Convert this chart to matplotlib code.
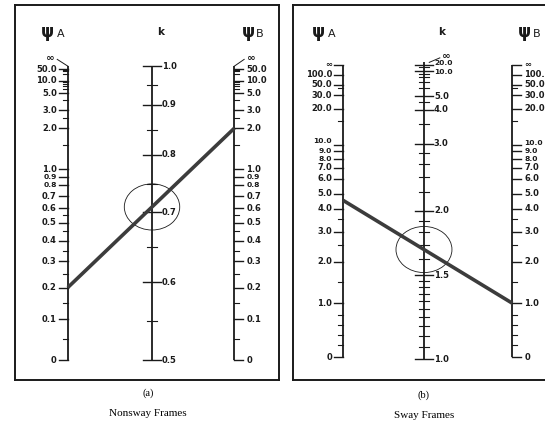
import numpy as np
import matplotlib.pyplot as plt
from matplotlib.patches import Ellipse

# ==============================
# SCALE CALIBRATION (value -> fraction along the scale)
# ==============================
# (a) nonsway frames
g_cal_a = [0, 0.1, 0.2, 0.3, 0.4, 0.5, 0.6, 0.7, 0.8, 0.9, 1.0, 2.0, 3.0, 5.0, 10.0, 50.0, np.inf]
g_frac_a = [0, 0.139, 0.247, 0.337, 0.406, 0.468, 0.517, 0.558, 0.595, 0.622, 0.650,
            0.789, 0.850, 0.908, 0.951, 0.990, 1.0]
k_cal_a = [0.5, 0.6, 0.7, 0.8, 0.9, 1.0]
k_frac_a = [0, 0.265, 0.503, 0.698, 0.869, 1.0]

# (b) sway frames
g_cal_b = [0, 0.2, 0.4, 0.6, 0.8, 1.0, 1.5, 2.0, 3.0, 4.0, 5.0, 6.0, 7.0, 8.0, 9.0,
           10.0, 20.0, 30.0, 50.0, 100.0, np.inf]
g_frac_b = [0, 0.041, 0.075, 0.109, 0.144, 0.184, 0.257, 0.326, 0.429, 0.508, 0.559,
            0.609, 0.648, 0.679, 0.705, 0.726, 0.850, 0.896, 0.932, 0.965, 1.0]
k_cal_b = [1.0, 1.5, 2.0, 3.0, 4.0, 5.0, 10.0, 20.0, np.inf]
k_frac_b = [0, 0.283, 0.500, 0.725, 0.840, 0.885, 0.972, 0.992, 1.0]

# ==============================
# TICKS
# ==============================
ga_major = [0, 0.1, 0.2, 0.3, 0.4, 0.5, 0.6, 0.7, 0.8, 0.9, 1.0, 2.0, 3.0, 5.0, 10.0, 50.0]
ga_labels = ["0", "0.1", "0.2", "0.3", "0.4", "0.5", "0.6", "0.7", "0.8", "0.9", "1.0",
             "2.0", "3.0", "5.0", "10.0", "50.0"]
ga_minor = [0.05, 0.15, 0.25, 0.35, 0.45, 0.55, 1.5, 2.5, 4.0, 6.0, 7.0, 8.0, 9.0,
            20.0, 30.0, 40.0]

ka_major = [0.5, 0.6, 0.7, 0.8, 0.9, 1.0]
ka_labels = ["0.5", "0.6", "0.7", "0.8", "0.9", "1.0"]
ka_minor = [0.55, 0.65, 0.75, 0.85, 0.95]

gb_major = [0, 1.0, 2.0, 3.0, 4.0, 5.0, 6.0, 7.0, 8.0, 9.0, 10.0, 20.0, 30.0, 50.0, 100.0, np.inf]
gb_labels = ["0", "1.0", "2.0", "3.0", "4.0", "5.0", "6.0", "7.0", "8.0", "9.0", "10.0",
             "20.0", "30.0", "50.0", "100.0", "∞"]
gb_minor = [0.2, 0.4, 0.6, 0.8, 1.5, 2.5, 3.5, 15.0, 40.0]

kb_major = [1.0, 1.5, 2.0, 3.0, 4.0, 5.0, 10.0, 20.0]
kb_labels = ["1.0", "1.5", "2.0", "3.0", "4.0", "5.0", "10.0", "20.0"]
kb_minor = [1.05, 1.1, 1.15, 1.2, 1.25, 1.3, 1.35, 1.4, 1.45, 1.6, 1.7, 1.8, 1.9,
            2.2, 2.4, 2.6, 2.8, 3.5, 4.5, 6.0, 7.0, 8.0, 9.0, 15.0]

# worked examples (psi_A, psi_B)
psi_a = (0.2, 2.0)
psi_b = (4.5, 1.0)

W, H = 545, 421
INK = "#1a1a1a"
FS = 6.0
FW = "bold"


def u_g(v):
    v = np.asarray(v, dtype=float)
    return np.where(np.isinf(v), 1.0, v / (1.0 + np.where(np.isinf(v), 0, v)))


def u_kb(v):
    v = np.asarray(v, dtype=float)
    return 1.0 - 1.0 / v


def make_map(cal, frac, u):
    uc = u(cal)
    return lambda v: np.interp(u(v), uc, frac)


def px_axes(left, top, right, bottom):
    return fig.add_axes([left / W, 1 - bottom / H, (right - left) / W, (bottom - top) / H])


def draw_scale(ax, x, y0, y1, fmap, major, labels, minor, side, pxw, nudge=None, small=()):
    # nudge: label -> vertical shift in pixels (crowded labels)
    nudge = nudge or {}
    L = 9 / pxw
    l = 5 / pxw
    ax.plot([x, x], [y0, y1], color=INK, lw=1.3, solid_capstyle="butt")
    pos = lambda v: y0 + fmap(v) * (y1 - y0)
    for v, lab in zip(major, labels):
        y = pos(v)
        ty = y + nudge.get(lab, 0) / 375
        kw = dict(va="center", color=INK, fontweight=FW,
                  fontsize=FS - 0.6 if lab in small else FS)
        if side == "left":
            ax.plot([x - L, x], [y, y], color=INK, lw=1.0)
            ax.text(x - L - 2 / pxw, ty, lab, ha="right", **kw)
        elif side == "right":
            ax.plot([x, x + L], [y, y], color=INK, lw=1.0)
            ax.text(x + L + 3 / pxw, ty, lab, ha="left", **kw)
        else:
            ax.plot([x - L, x + L], [y, y], color=INK, lw=1.0)
            ax.text(x + L + 1 / pxw, ty, lab, ha="left", **kw)
    for v in minor:
        y = pos(v)
        if side == "left":
            ax.plot([x - l, x], [y, y], color=INK, lw=0.8)
        elif side == "right":
            ax.plot([x, x + l], [y, y], color=INK, lw=0.8)
        else:
            ax.plot([x - l, x + l], [y, y], color=INK, lw=0.8)
    return pos


def headers(ax, xa, xk, xb, y):
    ax.text(xa, y, "ψ", fontsize=12, ha="center", va="center", color=INK, fontweight="bold")
    ax.text(xa + 0.052, y - 0.006, "A", fontsize=8, ha="center", va="center", color=INK)
    ax.text(xk, y, "k", fontsize=7.5, ha="center", va="center", color=INK, fontweight="bold")
    ax.text(xb, y, "ψ", fontsize=12, ha="center", va="center", color=INK, fontweight="bold")
    ax.text(xb + 0.045, y - 0.006, "B", fontsize=8, ha="center", va="center", color=INK)


fig = plt.figure(figsize=(W / 100, H / 100), dpi=100)

# ==============================
# (a) NONSWAY FRAMES
# ==============================
pw = 264
ax1 = px_axes(15, 5, 15 + pw, 380)
gmap_a = make_map(g_cal_a, g_frac_a, u_g)
kmap_a = make_map(k_cal_a, k_frac_a, lambda v: np.asarray(v, dtype=float))
y0a, y1a = 0.053, 0.837
xA, xK, xB = 0.200, 0.519, 0.831
crowd_a = ("0.9", "0.8")
posA = draw_scale(ax1, xA, y0a, y1a, gmap_a, ga_major, ga_labels, ga_minor, "left", pw, small=crowd_a)
posK = draw_scale(ax1, xK, y0a, y1a, kmap_a, ka_major, ka_labels, ka_minor, "both", pw)
posB = draw_scale(ax1, xB, y0a, y1a, gmap_a, ga_major, ga_labels, ga_minor, "right", pw, small=crowd_a)
# infinity marks with leaders
ax1.text(xA - 0.068, y1a + 0.022, "∞", fontsize=7.5, ha="center", va="center", color=INK, fontweight=FW)
ax1.plot([xA - 0.04, xA], [y1a + 0.018, y1a], color=INK, lw=0.7)
ax1.text(xB + 0.065, y1a + 0.022, "∞", fontsize=7.5, ha="center", va="center", color=INK, fontweight=FW)
ax1.plot([xB + 0.037, xB], [y1a + 0.018, y1a], color=INK, lw=0.7)

ya, yb = posA(psi_a[0]), posB(psi_a[1])
ax1.plot([xA, xB], [ya, yb], color="#3c3c3c", lw=2.6, solid_capstyle="butt")
yk = ya + (yb - ya) * (xK - xA) / (xB - xA)
ax1.add_patch(Ellipse((xK, yk), 0.21, 0.123, fill=False, lw=0.6, color=INK))
headers(ax1, 0.121, 0.553, 0.883, 0.928)

# ==============================
# (b) SWAY FRAMES
# ==============================
ax2 = px_axes(292.5, 5, 292.5 + pw, 380)
gmap_b = make_map(g_cal_b, g_frac_b, u_g)
kmap_b = make_map(k_cal_b, k_frac_b, u_kb)
y0g, y1g = 0.061, 0.841
y0k, y1k = 0.056, 0.847
xA2, xK2, xB2 = 0.192, 0.498, 0.833
crowd_b = ("10.0", "9.0", "8.0")
posA2 = draw_scale(ax2, xA2, y0g, y1g, gmap_b, gb_major, gb_labels, gb_minor, "left", pw,
                   nudge={"10.0": 4}, small=crowd_b)
posK2 = draw_scale(ax2, xK2, y0k, y1k, kmap_b, kb_major, kb_labels, kb_minor, "both", pw,
                   nudge={"20.0": 1.5, "10.0": -1}, small=("20.0", "10.0"))
posB2 = draw_scale(ax2, xB2, y0g, y1g, gmap_b, gb_major, gb_labels, gb_minor, "right", pw,
                   nudge={"10.0": 2}, small=crowd_b)
ax2.text(xK2 + 0.085, y1k + 0.016, "∞", fontsize=7.5, ha="center", va="center", color=INK, fontweight=FW)
ax2.plot([xK2 + 0.06, xK2 + 0.02], [y1k + 0.012, y1k], color=INK, lw=0.7)

ya, yb = posA2(psi_b[0]), posB2(psi_b[1])
ax2.plot([xA2, xB2], [ya, yb], color="#3c3c3c", lw=2.6, solid_capstyle="butt")
yk = ya + (yb - ya) * (xK2 - xA2) / (xB2 - xA2)
ax2.add_patch(Ellipse((xK2, yk), 0.212, 0.123, fill=False, lw=0.6, color=INK))
headers(ax2, 0.097, 0.566, 0.88, 0.928)

for ax in (ax1, ax2):
    ax.set_xlim(0, 1)
    ax.set_ylim(0, 1)
    ax.set_xticks([])
    ax.set_yticks([])
    for s in ax.spines.values():
        s.set_linewidth(1.4)
        s.set_color(INK)

# captions
serif = ["Liberation Serif", "DejaVu Serif"]
fig.text(148 / W, 1 - 393 / H, "(a)", ha="center", va="center", fontsize=7.5, family=serif)
fig.text(148 / W, 1 - 413 / H, "Nonsway Frames", ha="center", va="center", fontsize=8, family=serif)
fig.text(424 / W, 1 - 395 / H, "(b)", ha="center", va="center", fontsize=7.5, family=serif)
fig.text(424 / W, 1 - 415 / H, "Sway Frames", ha="center", va="center", fontsize=8, family=serif)

fig.savefig("out.png", dpi=100)
